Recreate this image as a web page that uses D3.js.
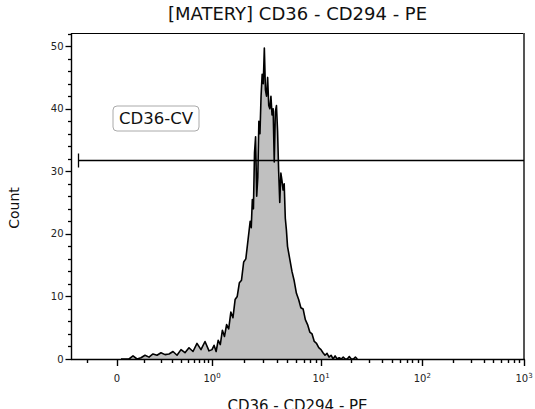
<!DOCTYPE html>
<html>
<head>
<meta charset="utf-8">
<script src="https://cdn.jsdelivr.net/npm/d3@7"></script>
<style>
  html, body { margin: 0; padding: 0; background: #fff; }
  svg { display: block; font-family: "DejaVu Sans", Verdana, sans-serif; }
</style>
</head>
<body>
<svg id="chart" width="535" height="409"></svg>
<script>
// ---------- data ----------
const title = "[MATERY] CD36 - CD294 - PE";
const xTitle = "CD36 - CD294 - PE";
const yTitle = "Count";

// histogram bin positions (fluorescence value) and counts
const binValues = [
  0.0106, 0.0224, 0.0354, 0.0498, 0.0657, 0.0833, 0.1027, 0.1243, 0.148, 0.1745, 0.2036, 0.236,
  0.272, 0.311, 0.355, 0.403, 0.456, 0.515, 0.581, 0.653, 0.733, 0.822, 0.92,
  1.000, 1.047, 1.096, 1.148, 1.202, 1.259, 1.318, 1.380, 1.445, 1.514, 1.585, 1.660,
  1.738, 1.820, 1.905, 1.995, 2.089,
  2.188, 2.239, 2.291, 2.344, 2.399, 2.455, 2.512, 2.570, 2.630, 2.692, 2.754, 2.818,
  2.884, 2.951, 3.020, 3.090, 3.162, 3.236, 3.311, 3.388, 3.467, 3.548, 3.631, 3.715,
  3.802, 3.890, 3.981, 4.074, 4.169, 4.266, 4.365, 4.467, 4.571, 4.677, 4.786, 4.898, 5.012,
  5.248, 5.495, 5.754, 6.026, 6.310, 6.607, 6.918, 7.244, 7.586, 7.943, 8.318, 8.710,
  9.120, 9.550, 10.00, 10.47, 10.96, 11.48, 12.02, 12.59, 13.18, 13.80, 14.45, 15.14,
  15.85, 16.60, 17.38, 18.20, 19.05, 19.95, 20.9, 21.9, 22.9
];
const counts = [
  0, 0, 0, 0.5, 0, 0.2, 0.6, 0.3, 0.8, 0.6, 1.0, 0.7,
  0.8, 1.2, 0.6, 1.5, 1.0, 1.8, 1.2, 2.5, 1.5, 2.8, 1.3,
  1.5, 2.2, 1.2, 3.0, 2.3, 4.6, 3.6, 5.5, 4.8, 7.5, 6.6, 9.5,
  10.0, 12.2, 12.6, 15.5, 16.0,
  19.0, 20.5, 22.0, 21.0, 25.5, 24.0, 33.0, 35.5, 26.0, 29.0, 38.0, 36.0,
  42.0, 45.5, 44.0, 49.7, 43.0, 42.0, 45.0, 40.5, 40.0, 42.0, 39.0, 40.0,
  31.5, 39.5, 40.5, 36.5, 30.0, 25.0, 29.7, 28.5, 27.0, 28.0, 22.5, 20.6, 18.0,
  16.0, 14.0, 12.5, 10.5, 9.5, 8.2, 8.0, 6.3, 5.5, 4.3, 4.0, 2.8,
  2.5, 1.8, 1.5, 1.0, 0.6, 0.9, 0.3, 0.6, 0, 0.5, 0, 0.2,
  0, 0.3, 0, 0, 0.4, 0, 0, 0.3, 0
];

// axes
const xDomain = [-0.19, 0, 1, 10, 1000];
const yDomain = [0, 52.1];
const xMajorTicks = [0, 1, 10, 100, 1000];
const xMajorLabels = [["0", ""], ["10", "0"], ["10", "1"], ["10", "2"], ["10", "3"]];
const xMinorTicks = [-0.1, 0.1, 0.2, 0.3, 0.4, 0.5, 0.6, 0.7, 0.8, 0.9,
  2, 3, 4, 5, 6, 7, 8, 9, 20, 30, 40, 50, 60, 70, 80, 90,
  200, 300, 400, 500, 600, 700, 800, 900];
const yMajorTicks = [0, 10, 20, 30, 40, 50];
const yMinorTicks = [2, 4, 6, 8, 12, 14, 16, 18, 22, 24, 26, 28, 32, 34, 36, 38, 42, 44, 46, 48, 52];

// gate
const gateName = "CD36-CV";
const gateRange = [-0.146, 1000];
const gateLevel = 31.8;

// ---------- drawing ----------
const svg = d3.select("#chart");
const plot = { left: 71, right: 524, top: 33, bottom: 359 };

// logicle-like display: symlog, piecewise through the decade marks
const x = d3.scaleSymlog().constant(0.1).domain(xDomain).range([plot.left, 117, 212, 321, plot.right]);
const y = d3.scaleLinear().domain(yDomain).range([plot.bottom, plot.top]);

// histogram area
const data = binValues.map((v, i) => ({ v, c: counts[i] }));
const area = d3.area().x(d => x(d.v)).y0(y(0)).y1(d => y(d.c));
const line = d3.line().x(d => x(d.v)).y(d => y(d.c));

svg.append("path").datum(data).attr("d", area).attr("fill", "#c0c0c0");
svg.append("path").datum(data).attr("d", line)
  .attr("fill", "none").attr("stroke", "#000").attr("stroke-width", 1.6)
  .attr("stroke-linejoin", "round");

// frame (top + right)
svg.append("line").attr("x1", plot.left).attr("x2", plot.right)
  .attr("y1", plot.top + 0.5).attr("y2", plot.top + 0.5)
  .attr("stroke", "#000").attr("stroke-width", 1.2);
svg.append("line").attr("x1", plot.right).attr("x2", plot.right)
  .attr("y1", plot.top).attr("y2", plot.bottom)
  .attr("stroke", "#555").attr("stroke-width", 2);

// x axis
const gx = svg.append("g").attr("transform", `translate(0,${plot.bottom + 0.5})`);
gx.append("line").attr("x1", plot.left).attr("x2", plot.right + 1)
  .attr("stroke", "#000").attr("stroke-width", 1.4);
gx.selectAll(".xmin").data(xMinorTicks).join("line")
  .attr("x1", d => Math.round(x(d)) + 0.5).attr("x2", d => Math.round(x(d)) + 0.5)
  .attr("y1", 0).attr("y2", 3.5).attr("stroke", "#000").attr("stroke-width", 1.4);
gx.selectAll(".xmaj").data(xMajorTicks).join("line")
  .attr("x1", d => Math.round(x(d)) + 0.5).attr("x2", d => Math.round(x(d)) + 0.5)
  .attr("y1", 0).attr("y2", 6.5).attr("stroke", "#000").attr("stroke-width", 1.4);
const xl = gx.selectAll(".xlab").data(xMajorTicks).join("text")
  .attr("x", d => x(d)).attr("y", 22)
  .attr("text-anchor", "middle").attr("font-size", 10).attr("fill", "#222");
xl.append("tspan").text((d, i) => xMajorLabels[i][0]);
xl.append("tspan").attr("font-size", 7).attr("dy", -4).text((d, i) => xMajorLabels[i][1]);

// y axis
const gy = svg.append("g").attr("transform", `translate(${plot.left + 0.5},0)`);
gy.append("line").attr("y1", plot.top).attr("y2", plot.bottom + 1)
  .attr("stroke", "#000").attr("stroke-width", 1.4);
gy.selectAll(".ymin").data(yMinorTicks).join("line")
  .attr("y1", d => Math.round(y(d)) + 0.5).attr("y2", d => Math.round(y(d)) + 0.5)
  .attr("x1", 0).attr("x2", -3.5).attr("stroke", "#000").attr("stroke-width", 1.3);
gy.selectAll(".ymaj").data(yMajorTicks).join("line")
  .attr("y1", d => Math.round(y(d)) + 0.5).attr("y2", d => Math.round(y(d)) + 0.5)
  .attr("x1", 0).attr("x2", -6).attr("stroke", "#000").attr("stroke-width", 1.3);
gy.selectAll(".ylab").data(yMajorTicks).join("text")
  .attr("x", -8).attr("y", d => y(d)).attr("dy", "0.35em")
  .attr("text-anchor", "end").attr("font-size", 10).attr("fill", "#222")
  .text(d => d);

// gate
const gy0 = Math.round(y(gateLevel)) + 0.5;
svg.append("line").attr("x1", x(gateRange[0])).attr("x2", x(gateRange[1]))
  .attr("y1", gy0).attr("y2", gy0).attr("stroke", "#000").attr("stroke-width", 1.3);
svg.append("line").attr("x1", Math.round(x(gateRange[0])) + 0.5).attr("x2", Math.round(x(gateRange[0])) + 0.5)
  .attr("y1", gy0 - 7).attr("y2", gy0 + 7).attr("stroke", "#000").attr("stroke-width", 1.3);

const gl = svg.append("g").attr("transform", "translate(156,118.5)");
gl.append("rect").attr("x", -43).attr("y", -12.5).attr("width", 86).attr("height", 25)
  .attr("rx", 4).attr("fill", "#fff").attr("stroke", "#aaa").attr("stroke-width", 1);
gl.append("text").attr("text-anchor", "middle").attr("dy", "0.36em")
  .attr("font-size", 16.5).attr("fill", "#111").text(gateName);

// titles
svg.append("text").attr("x", (plot.left + plot.right) / 2).attr("y", 20)
  .attr("text-anchor", "middle").attr("font-size", 18).attr("fill", "#111").text(title);
svg.append("text").attr("x", (plot.left + plot.right) / 2).attr("y", 411)
  .attr("text-anchor", "middle").attr("font-size", 15).attr("fill", "#111").text(xTitle);
svg.append("text").attr("transform", `translate(19,${(plot.top + plot.bottom) / 2 + 12}) rotate(-90)`)
  .attr("text-anchor", "middle").attr("font-size", 14).attr("fill", "#111").text(yTitle);
</script>
</body>
</html>
